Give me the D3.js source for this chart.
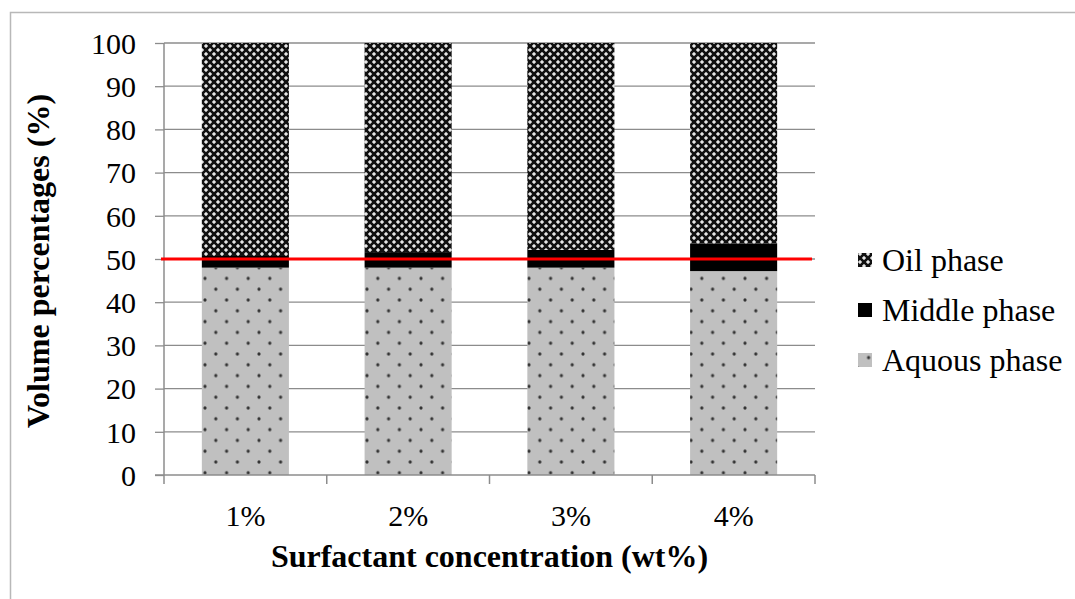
<!DOCTYPE html>
<html><head><meta charset="utf-8">
<script src="https://cdn.jsdelivr.net/npm/d3@7"></script>
<style>body{margin:0;background:#fff}svg{display:block}text{font-family:'Liberation Serif','Times New Roman',serif}</style>
</head><body>
<svg id="chart" width="1075" height="599"></svg>
<script>
const categories = ["1%", "2%", "3%", "4%"];
const aqueous = [48.0, 48.0, 48.0, 47.2];
const middle = [2.7, 3.6, 4.1, 6.4];
const oil = [49.3, 48.4, 47.9, 46.4];
const yTicks = [0, 10, 20, 30, 40, 50, 60, 70, 80, 90, 100];
const seriesNames = ["Aquous phase", "Middle phase", "Oil phase"];
const legendOrder = ["Oil phase", "Middle phase", "Aquous phase"];
const refLine = 50;

(function () {
const svg = d3.select("#chart");
const font = "'Liberation Serif', 'Times New Roman', serif";
const defs = svg.append("defs");

// Oil pattern
const po = defs.append("pattern").attr("id", "pOil").attr("patternUnits", "userSpaceOnUse")
  .attr("width", 8).attr("height", 8);
po.append("rect").attr("width", 8).attr("height", 8).attr("fill", "#111");
[[0,0],[4,4]].forEach(([px,py]) => {
  po.append("rect").attr("x", px+1).attr("y", py).attr("width", 2).attr("height", 4).attr("fill", "#9a9a9a");
  po.append("rect").attr("x", px).attr("y", py+1).attr("width", 4).attr("height", 2).attr("fill", "#9a9a9a");
  po.append("rect").attr("x", px+1).attr("y", py+1).attr("width", 2).attr("height", 2).attr("fill", "#e6e6e6");
});

// Aqueous pattern
const pa = defs.append("pattern").attr("id", "pAq").attr("patternUnits", "userSpaceOnUse")
  .attr("width", 21.6).attr("height", 21.6).attr("x", 205).attr("y", 408);
pa.append("rect").attr("width", 21.6).attr("height", 21.6).attr("fill", "#c0c0c0");
[[0,0],[21.6,0],[0,21.6],[21.6,21.6],[10.8,10.8]].forEach(([cx,cy]) =>
  pa.append("circle").attr("cx", cx).attr("cy", cy).attr("r", 1.6).attr("fill", "#333"));

const fills = {"Aquous phase": "url(#pAq)", "Middle phase": "#000", "Oil phase": "url(#pOil)"};

// outer border
svg.append("rect").attr("x", 10.5).attr("y", 12.5).attr("width", 1100).attr("height", 700)
  .attr("fill", "none").attr("stroke", "#b8b8b8").attr("stroke-width", 1.5);

const L = 164, R = 815, T = 43, B = 475;
const x = d3.scaleBand().domain(categories).range([L, R]).paddingInner(0.465).paddingOuter(0.2325);
const y = d3.scaleLinear().domain([0, 100]).range([B, T]);

// gridlines
svg.append("g").selectAll("line").data(yTicks.filter(d => d > 0)).join("line")
  .attr("x1", L).attr("x2", R).attr("y1", d => y(d)).attr("y2", d => y(d))
  .attr("stroke", "#8c8c8c").attr("stroke-width", 1.3);

// stacked bars
const table = categories.map((c, i) => ({cat: c, "Aquous phase": aqueous[i], "Middle phase": middle[i], "Oil phase": oil[i]}));
const stack = d3.stack().keys(seriesNames)(table);
svg.append("g").selectAll("g").data(stack).join("g")
  .attr("fill", d => fills[d.key])
  .selectAll("rect").data(d => d).join("rect")
  .attr("x", d => x(d.data.cat)).attr("width", x.bandwidth())
  .attr("y", d => y(d[1])).attr("height", d => y(d[0]) - y(d[1]));

// y axis
const yAxis = svg.append("g").attr("transform", `translate(${L},0)`)
  .call(d3.axisLeft(y).tickValues(yTicks).tickSize(9).tickPadding(19));
yAxis.attr("font-family", null).attr("font-size", null);
yAxis.select(".domain").attr("stroke", "#8c8c8c").attr("stroke-width", 1.5).attr("d", `M0,${T}V${B}`);
yAxis.selectAll(".tick line").attr("stroke", "#8c8c8c").attr("stroke-width", 1.3);
yAxis.selectAll("text").style("font-family", font).style("font-size", "30px").attr("fill", "#000").attr("dy", "0.34em");

// x axis
const xAxis = svg.append("g").attr("transform", `translate(0,${B})`)
  .call(d3.axisBottom(x).tickSize(0).tickPadding(30));
xAxis.attr("font-family", null).attr("font-size", null);
xAxis.select(".domain").attr("stroke", "#8c8c8c").attr("stroke-width", 1.5).attr("d", `M${L-9},0H${R}`);
xAxis.selectAll("text").style("font-family", font).style("font-size", "30px").attr("fill", "#000");
svg.append("g").selectAll("line").data(d3.range(categories.length + 1)).join("line")
  .attr("x1", i => L + i * x.step()).attr("x2", i => L + i * x.step())
  .attr("y1", B).attr("y2", B + 9)
  .attr("stroke", "#8c8c8c").attr("stroke-width", 1.5);

// reference line
svg.append("line").attr("x1", L - 3).attr("x2", R - 3).attr("y1", y(refLine)).attr("y2", y(refLine))
  .attr("stroke", "#ff0000").attr("stroke-width", 2.8);

// axis titles
svg.append("text").attr("x", (L + R) / 2).attr("y", 567).attr("text-anchor", "middle")
  .style("font-family", font).style("font-size", "32px").attr("font-weight", "bold").text("Surfactant concentration (wt%)");
svg.append("text").attr("transform", `translate(49,${(T + B) / 2 + 2}) rotate(-90)`).attr("text-anchor", "middle")
  .style("font-family", font).style("font-size", "32px").attr("font-weight", "bold").text("Volume percentages (%)");

// legend
const lg = svg.append("g").selectAll("g").data(legendOrder).join("g")
  .attr("transform", (d, i) => `translate(858,${260 + i * 50})`);
lg.append("rect").attr("x", 0).attr("y", -7).attr("width", 14).attr("height", 14)
  .attr("fill", d => fills[d]);
lg.append("text").attr("x", 24).attr("y", 0).attr("dy", "0.35em")
  .style("font-family", font).style("font-size", "32px").text(d => d);
})();
</script>
</body></html>
